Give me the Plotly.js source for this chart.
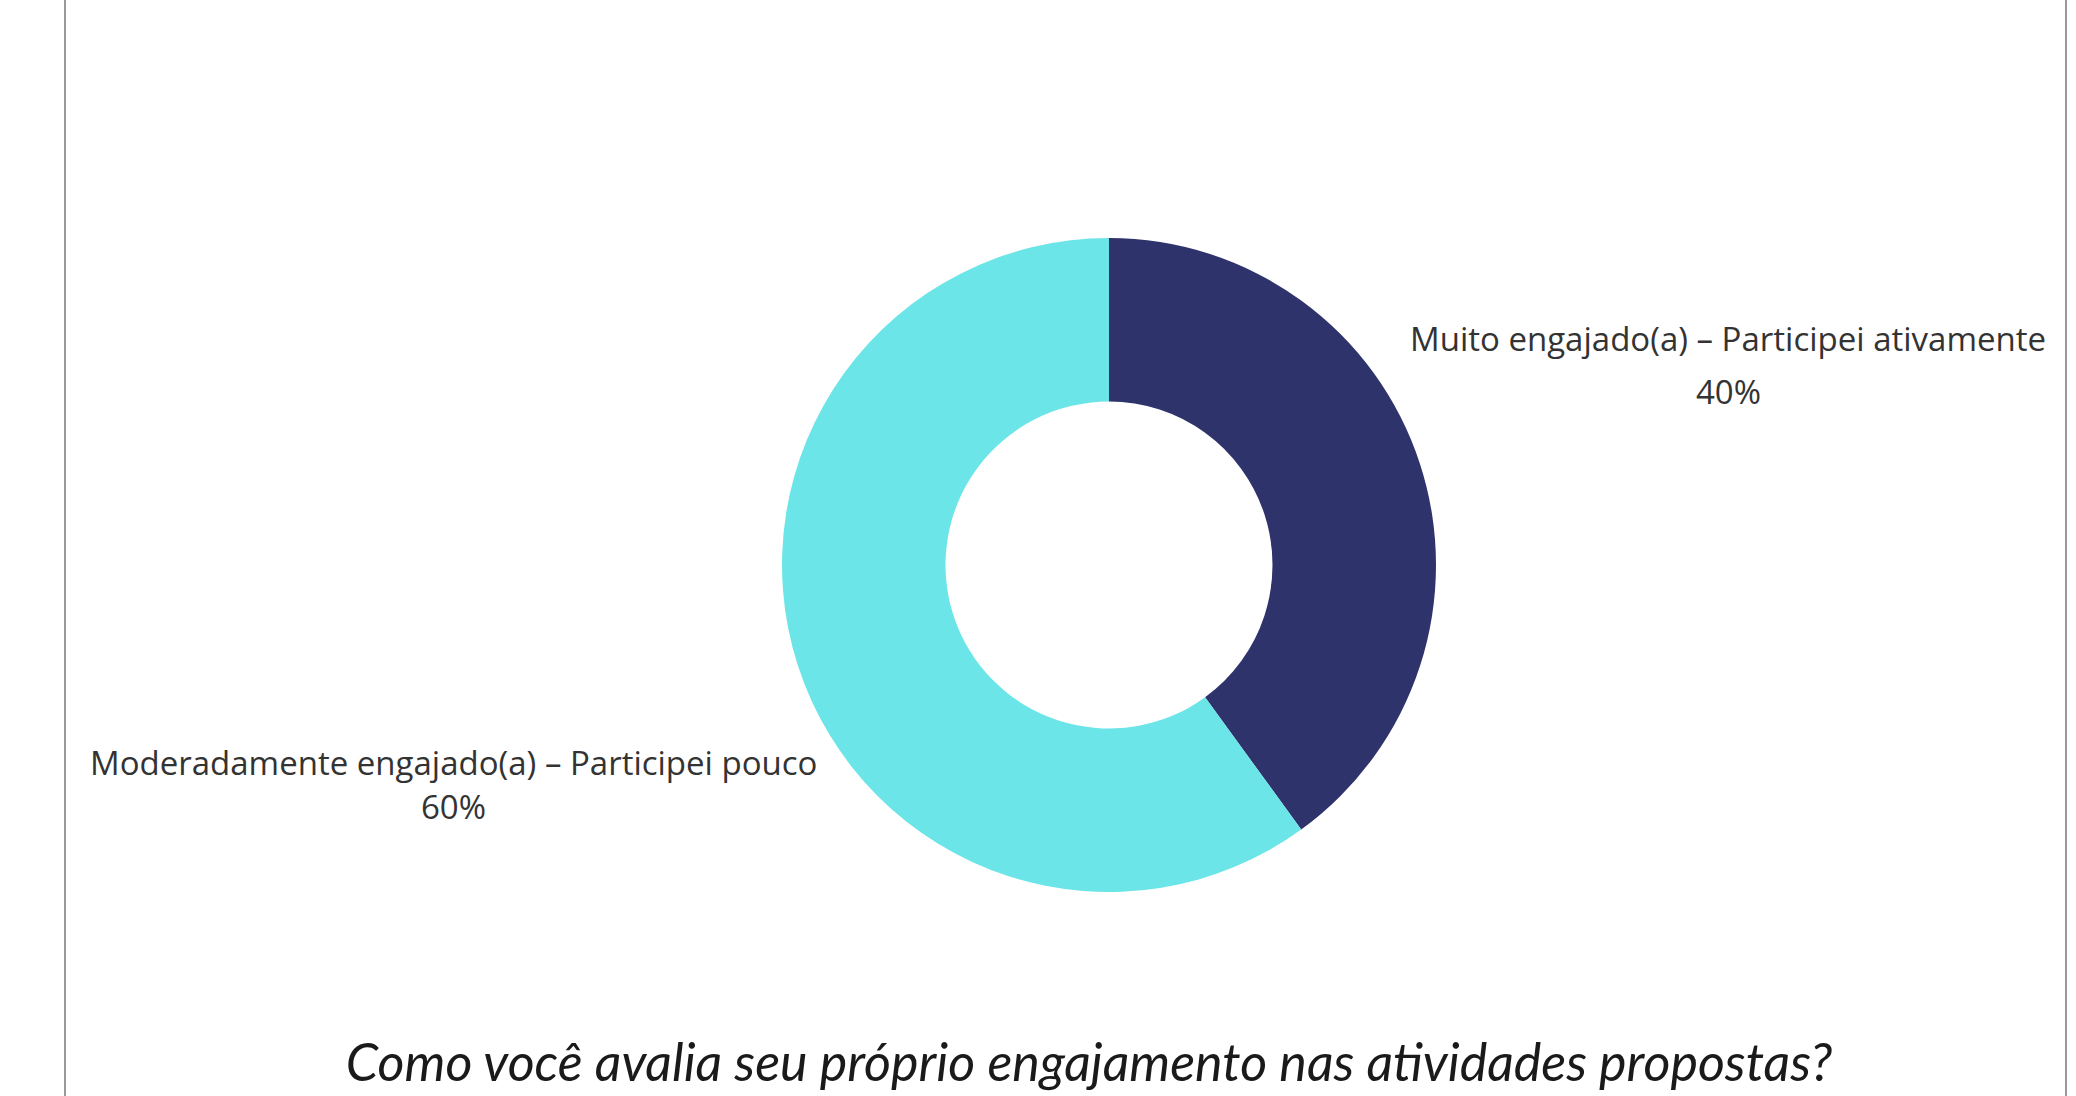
<!DOCTYPE html>
<html>
<head>
<meta charset="utf-8">
<script src="https://cdn.plot.ly/plotly-3.0.1.min.js"></script>
<style>
  html, body { margin: 0; padding: 0; background: #ffffff; }
  #chart { width: 2076px; height: 1096px; }
</style>
</head>
<body>
<div id="chart"></div>
<script>
const categories = [
  "Muito engajado(a) – Participei ativamente",
  "Moderadamente engajado(a) – Participei pouco"
];
const shares = [40, 60];
const sliceColors = ["#2f336b", "#6ce5e8"];
const chartTitle = "Como você avalia seu próprio engajamento nas atividades propostas?";

const W = 2076, H = 1096;
const cx = 1109, cy = 565, R = 327;

// label anchor positions (pixels) for each slice
const labelPos = [
  { x: 1728, y1: 339, y2: 391 },
  { x: 453, y1: 762, y2: 806 }
];

const total = shares.reduce((a, b) => a + b, 0);
const annotations = [];
categories.forEach((c, i) => {
  const p = labelPos[i];
  annotations.push({
    text: c, xref: "paper", yref: "paper",
    x: p.x / W, y: 1 - p.y1 / H, xanchor: "center", yanchor: "middle",
    showarrow: false, font: { family: "Open Sans", size: 33, color: "#333333" }
  });
  annotations.push({
    text: Math.round(shares[i] / total * 100) + "%", xref: "paper", yref: "paper",
    x: p.x / W, y: 1 - p.y2 / H, xanchor: "center", yanchor: "middle",
    showarrow: false, font: { family: "Open Sans", size: 33, color: "#333333" }
  });
});

const data = [{
  type: "pie",
  labels: categories,
  values: shares,
  hole: 0.5,
  sort: false,
  direction: "clockwise",
  rotation: 0,
  textinfo: "none",
  hoverinfo: "label+percent",
  marker: { colors: sliceColors, line: { width: 0 } },
  domain: {
    x: [(cx - R) / W, (cx + R) / W],
    y: [1 - (cy + R) / H, 1 - (cy - R) / H]
  },
  showlegend: false
}];

const layout = {
  width: W, height: H,
  margin: { l: 0, r: 0, t: 0, b: 0 },
  paper_bgcolor: "#ffffff",
  plot_bgcolor: "#ffffff",
  showlegend: false,
  title: {
    text: "<i>" + chartTitle + "</i>",
    x: 1089 / W, xanchor: "center",
    y: 1 - 1063 / H, yanchor: "middle", yref: "container",
    font: { family: "Lato", size: 52, color: "#1a1a1a" }
  },
  annotations: annotations,
  shapes: [
    { type: "line", xref: "paper", yref: "paper", x0: 65 / W, x1: 65 / W, y0: 0, y1: 1,
      line: { color: "#999999", width: 2 } },
    { type: "line", xref: "paper", yref: "paper", x0: 2066 / W, x1: 2066 / W, y0: 0, y1: 1,
      line: { color: "#999999", width: 2 } }
  ]
};

Plotly.newPlot("chart", data, layout, { displayModeBar: false, staticPlot: true });
</script>
</body>
</html>
